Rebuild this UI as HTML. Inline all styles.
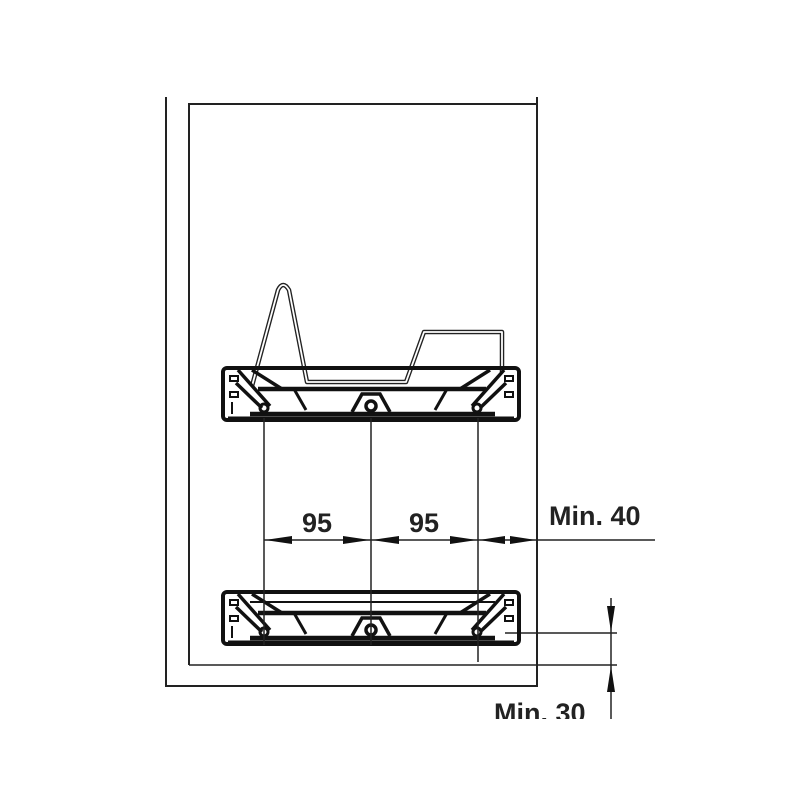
<!DOCTYPE html>
<html><head><style>
html,body{margin:0;padding:0;background:#fff;width:800px;height:800px;overflow:hidden}
text{font-family:"Liberation Sans",Arial,sans-serif;font-weight:bold;fill:#222}
</style></head><body>
<svg width="800" height="800" viewBox="0 0 800 800" xmlns="http://www.w3.org/2000/svg">
<defs>
<g id="rail" fill="none" stroke="#111">
  <rect x="223" y="0" width="296" height="52" rx="4" stroke-width="4"/>
  <line x1="228" y1="50" x2="514" y2="50" stroke-width="3"/>
  <line x1="258" y1="21" x2="486" y2="21" stroke-width="4.5"/>
  <line x1="250" y1="46" x2="495" y2="46" stroke-width="4.5"/>
  <path d="M238 2 L270 38 M252 2 L282 21 M236 15 L262 40" stroke-width="3.5"/>
  <path d="M504 2 L472 38 M490 2 L460 21 M506 15 L480 40" stroke-width="3.5"/>
  <path d="M294 21 L306 42 M447 21 L435 42" stroke-width="3"/>
  <path d="M352 44 L362 26 L380 26 L390 44" stroke-width="3.5"/>
  <circle cx="264" cy="40" r="4" stroke-width="3"/>
  <circle cx="371" cy="38" r="5" stroke-width="3.5"/>
  <circle cx="477" cy="40" r="4" stroke-width="3"/>
  <rect x="230" y="8" width="8" height="5" stroke-width="2"/>
  <rect x="230" y="24" width="8" height="5" stroke-width="2"/>
  <rect x="505" y="8" width="8" height="5" stroke-width="2"/>
  <rect x="505" y="24" width="8" height="5" stroke-width="2"/>
  <line x1="232" y1="34" x2="232" y2="46" stroke-width="2"/>
</g>
</defs>
<g fill="none" stroke="#222" stroke-width="2">
  <path d="M166 97 V686 H537 V97"/>
  <path d="M189 665 V104 H537"/>
  <line x1="189" y1="665" x2="617" y2="665" stroke-width="1.5"/>
  <line x1="505" y1="633" x2="617" y2="633" stroke-width="1.5"/>
</g>
<g fill="none" stroke="#222" stroke-width="4.5" stroke-linejoin="round">
  <path d="M252 386 L278 290 Q283 280 289 290 L307 382 L406 382 L424 332 L502 332 L502 372"/>
</g>
<g fill="none" stroke="#fff" stroke-width="1.8" stroke-linejoin="round">
  <path d="M252 386 L278 290 Q283 280 289 290 L307 382 L406 382 L424 332 L502 332 L502 372"/>
</g>
<use href="#rail" y="368"/>
<use href="#rail" y="592"/>
<g fill="none" stroke="#111" stroke-width="2">
  <line x1="250" y1="602" x2="495" y2="602"/>
</g>
<g stroke="#222" stroke-width="1.5">
  <line x1="264" y1="418" x2="264" y2="645"/>
  <line x1="371" y1="418" x2="371" y2="645"/>
  <line x1="478" y1="418" x2="478" y2="662"/>
  <line x1="264" y1="540" x2="655" y2="540"/>
  <line x1="611" y1="598" x2="611" y2="720"/>
</g>
<g fill="#111">
  <polygon points="265,540 292,536 292,544"/>
  <polygon points="370,540 343,536 343,544"/>
  <polygon points="372,540 399,536 399,544"/>
  <polygon points="477,540 450,536 450,544"/>
  <polygon points="479,540 505,536 505,544"/>
  <polygon points="536,540 510,536 510,544"/>
  <polygon points="611,632 607,606 615,606"/>
  <polygon points="611,666 607,692 615,692"/>
</g>
<text x="302" y="532" font-size="27">95</text>
<text x="409" y="532" font-size="27">95</text>
<text x="549" y="525" font-size="27">Min. 40</text>
<text x="494" y="722" font-size="27">Min. 30</text>
<rect x="480" y="719" width="200" height="30" fill="#fff"/>
</svg>
</body></html>
